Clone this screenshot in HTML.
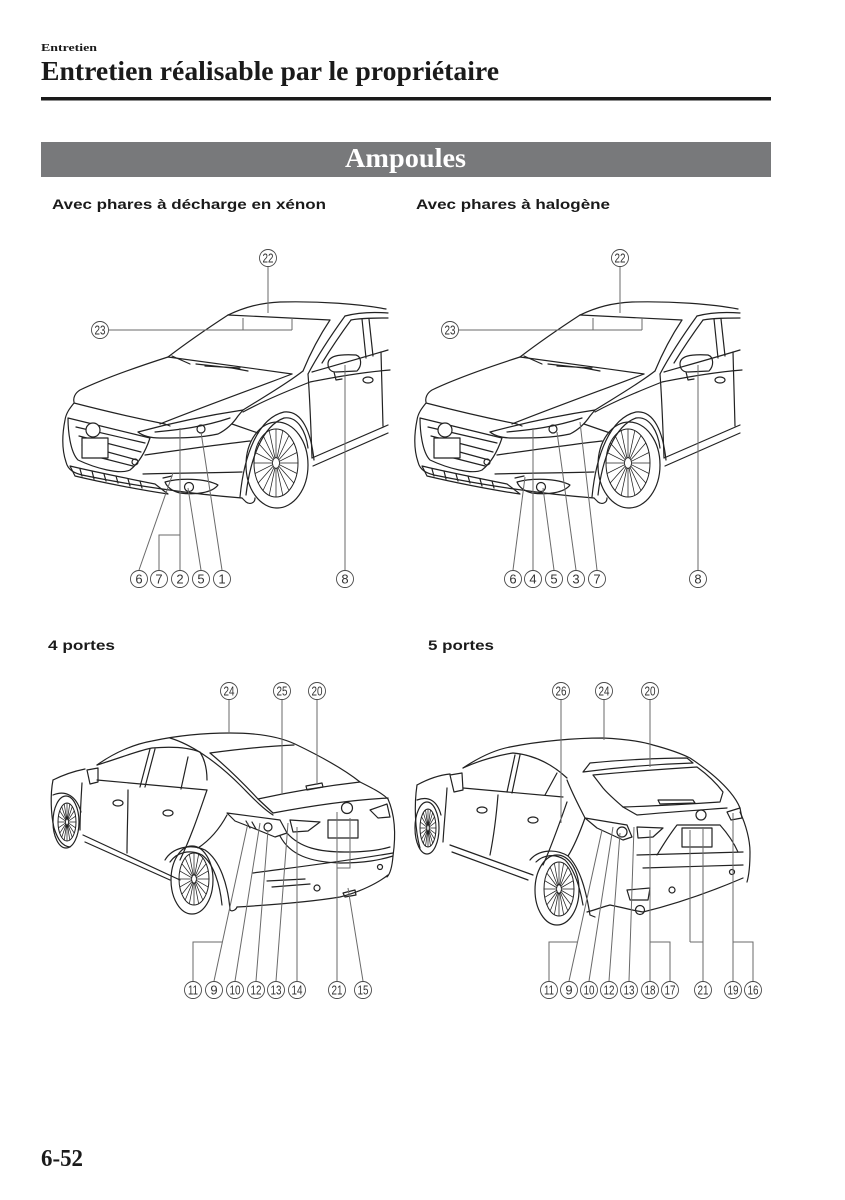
<!DOCTYPE html>
<html><head><meta charset="utf-8"><style>
html,body{margin:0;padding:0;background:#fff;}
svg{display:block;}
.t{font-family:"Liberation Sans",sans-serif;}
.s{font-family:"Liberation Serif",serif;}
.ld{stroke:#6a6a6a;stroke-width:1;fill:none;}
.lb circle{fill:#fff;stroke:#4a4a4a;stroke-width:0.9;}
.lb text{font-family:"Liberation Sans",sans-serif;font-size:13px;fill:#333;text-anchor:middle;}
</style></head><body>
<svg width="845" height="1200" viewBox="0 0 845 1200" xmlns="http://www.w3.org/2000/svg">
<defs>
<g id="rim">
<ellipse cx="0" cy="0" rx="1" ry="1" fill="none" stroke="#222" stroke-width="1" vector-effect="non-scaling-stroke"/>
<ellipse cx="0" cy="0" rx="0.16" ry="0.16" fill="none" stroke="#222" stroke-width="0.8" vector-effect="non-scaling-stroke"/>
<path fill="none" stroke="#222" stroke-width="0.75" vector-effect="non-scaling-stroke" d="M.15,0L1,0M.143,.046L.951,.309M.121,.088L.809,.588M.088,.121L.588,.809M.046,.143L.309,.951M0,.15L0,1M-.046,.143L-.309,.951M-.088,.121L-.588,.809M-.121,.088L-.809,.588M-.143,.046L-.951,.309M-.15,0L-1,0M-.143,-.046L-.951,-.309M-.121,-.088L-.809,-.588M-.088,-.121L-.588,-.809M-.046,-.143L-.309,-.951M0,-.15L0,-1M.046,-.143L.309,-.951M.088,-.121L.588,-.809M.121,-.088L.809,-.588M.143,-.046L.951,-.309"/>
</g>
<g id="fc" fill="none" stroke="#222" stroke-width="1.2" stroke-linejoin="round" stroke-linecap="round">
<path d="M228,315 C245,307 260,303 280,302 C320,301 360,304 386,309"/>
<path d="M228,315 L330,320"/>
<path d="M228,315 C205,330 185,344 168,357"/>
<path d="M168,357 C205,362 250,368 292,374"/>
<path d="M330,320 C318,338 310,354 303,371"/>
<path d="M345,316 C332,334 318,355 308,374"/>
<path d="M345,316 C360,312 375,312 388,313"/>
<path d="M351,320 C362,318 375,318 388,318"/>
<path d="M351,320 C340,335 330,350 322,363"/>
<path d="M312,372 C340,364 365,357 388,350"/>
<path d="M362,319 L366,358 M369,319 L373,356"/>
<path d="M172,356 L190,364 M196,364 L232,368 L248,371 M205,366 L240,368"/>
<path d="M168,357 C140,366 105,378 80,390 C75,393 73,398 74,402"/>
<path d="M74,403 C105,411 135,418 165,424 L170,426"/>
<path d="M138,432 C175,422 210,415 243,410"/>
<path d="M303,371 C285,385 262,398 243,410"/>
<path d="M160,424 C200,408 250,390 292,374"/>
<path d="M243,410 L238,416 C232,425 226,430 218,434 C200,438 180,438 160,438 C150,438 143,436 138,432"/>
<path d="M155,432 C175,430 200,428 230,418"/>
<circle cx="201" cy="429" r="4"/>
<path d="M243,412 C265,400 290,390 310,382 C340,376 365,372 390,370"/>
<path d="M232,424 L258,433"/>
<path d="M74,403 C70,408 66,413 65,420 C62,435 62,450 66,462 C68,470 74,473 82,475 C130,485 190,494 242,498"/>
<path d="M68,418 C100,426 130,433 150,438 C146,450 140,462 130,470 C120,475 95,468 78,460 C70,452 68,430 68,418 Z"/>
<path d="M76,427 L145,443 M79,436 L141,452 M82,445 L137,460 M86,454 L133,466"/>
<circle cx="93" cy="430" r="7" fill="#fff"/>
<rect x="82" y="438" width="26" height="20" fill="#fff"/>
<circle cx="135" cy="462" r="3"/>
<path d="M145,455 C180,450 215,445 250,441"/>
<path d="M143,474 C175,473 210,473 242,472"/>
<path d="M70,466 C95,472 125,478 155,484 L168,494 C140,490 100,482 75,476 Z"/>
<path d="M80,469 L82,476 M92,471 L94,479 M104,474 L106,481 M116,476 L118,483 M128,479 L130,486 M140,481 L142,488"/>
<path d="M165,482 C180,478 205,478 218,485 C212,493 195,495 180,493 C172,491 167,487 165,482 Z"/>
<circle cx="189" cy="487" r="4.5"/>
<path d="M163,478 L172,476"/>
<path d="M242,498 L246,502 C250,505 255,503 255,498"/>
<path d="M240,497 C244,455 258,418 284,412 C302,410 311,432 314,460"/>
<path d="M246,495 C250,460 262,426 284,418 C298,416 306,432 308,448"/>
<ellipse cx="277" cy="465" rx="31" ry="43"/>
<use href="#rim" transform="translate(276,463) scale(22,34)"/>
<path d="M308,374 C310,400 311,430 312,458"/>
<path d="M312,458 L388,425 M313,466 L388,433"/>
<path d="M381,352 L383,426"/>
<path d="M328,364 C328,356 338,354 356,355 C362,357 362,366 357,371 L336,372 C331,372 328,369 328,364 Z"/>
<path d="M334,372 L336,380 L342,379"/>
<ellipse cx="368" cy="380" rx="5" ry="3"/>
</g>
</defs>

<!-- Header -->
<text x="41" y="51" class="s" font-size="11" font-weight="bold" fill="#1a1a1a" textLength="56" lengthAdjust="spacingAndGlyphs">Entretien</text>
<text x="41" y="80" class="s" font-size="27" font-weight="bold" fill="#1a1a1a" textLength="458" lengthAdjust="spacingAndGlyphs">Entretien réalisable par le propriétaire</text>
<rect x="41" y="97" width="730" height="3.5" fill="#1a1a1a"/>
<rect x="41" y="142" width="730" height="35" fill="#78797b"/>
<text x="345" y="167" class="s" font-size="27" font-weight="bold" fill="#fff" textLength="121" lengthAdjust="spacingAndGlyphs">Ampoules</text>

<text x="52" y="209" class="t" font-size="14" font-weight="bold" fill="#1a1a1a" textLength="274" lengthAdjust="spacingAndGlyphs">Avec phares à décharge en xénon</text>
<text x="416" y="209" class="t" font-size="14" font-weight="bold" fill="#1a1a1a" textLength="194" lengthAdjust="spacingAndGlyphs">Avec phares à halogène</text>

<text x="48" y="650" class="t" font-size="14" font-weight="bold" fill="#1a1a1a" textLength="67" lengthAdjust="spacingAndGlyphs">4 portes</text>
<text x="428" y="650" class="t" font-size="14" font-weight="bold" fill="#1a1a1a" textLength="66" lengthAdjust="spacingAndGlyphs">5 portes</text>

<text x="41" y="1166" class="s" font-size="24" font-weight="bold" fill="#1a1a1a" textLength="42" lengthAdjust="spacingAndGlyphs">6-52</text>

<!-- Front cars -->
<use href="#fc"/>
<use href="#fc" transform="translate(352,0)"/>

<!-- Rear sedan -->
<g fill="none" stroke="#222" stroke-width="1.2" stroke-linejoin="round" stroke-linecap="round">
<path d="M97,765 C115,752 135,744 152,741 C180,735 205,733 230,733 C260,733 280,737 295,744 C320,756 345,770 360,782 C372,788 382,793 388,799"/>
<path d="M210,753 C240,749 270,746 294,745"/>
<path d="M210,753 C228,768 245,785 258,799"/>
<path d="M258,799 C290,792 325,786 360,782"/>
<path d="M170,738 C190,744 215,760 240,785 C252,797 262,808 273,815"/>
<path d="M258,799 L273,813"/>
<path d="M273,813 C310,806 350,800 388,798"/>
<path d="M306,786 L322,783 L323,787 L307,790 Z"/>
<path d="M227,813 L280,820 L287,833 L275,837 L253,828 L235,821 Z"/>
<circle cx="268" cy="827" r="4"/>
<path d="M246,821 L250,828 M252,822 L256,829"/>
<path d="M290,820 L320,822 L308,831 L293,832 Z"/>
<path d="M370,810 L387,804 L390,817 L378,818 Z"/>
<path d="M287,833 C300,848 320,852 345,852 C365,852 380,850 390,847"/>
<path d="M280,836 C290,855 310,862 340,863 C365,863 380,860 393,856"/>
<rect x="328" y="820" width="30" height="18"/>
<circle cx="347" cy="808" r="5.5"/>
<path d="M388,799 C395,815 396,835 393,856 C392,868 390,874 387,877"/>
<path d="M253,873 C290,868 340,862 393,853"/>
<path d="M237,907 C270,905 310,902 340,897 C360,892 378,883 388,875"/>
<path d="M267,881 L305,879 M272,887 L310,884"/>
<circle cx="317" cy="888" r="3"/>
<circle cx="380" cy="867" r="2.5"/>
<path d="M343,893 L355,890 L356,895 L345,897 Z"/>
<path d="M227,815 C220,828 210,840 198,848"/>
<path d="M165,860 C172,848 190,843 205,850 C220,860 228,885 230,910"/>
<path d="M170,862 C177,852 190,849 202,855 C214,864 220,885 222,905"/>
<ellipse cx="192" cy="880" rx="21" ry="34"/>
<use href="#rim" transform="translate(194,879) scale(15,26)"/>
<path d="M230,910 C232,912 236,910 237,907"/>
<path d="M97,765 C120,758 140,750 152,748 C175,746 190,748 200,752 C205,760 207,770 207,780"/>
<path d="M97,780 L207,790"/>
<path d="M150,749 L140,787 M155,749 L145,787"/>
<path d="M188,757 L181,789"/>
<path d="M82,783 C81,800 80,815 80,830"/>
<path d="M128,790 C128,810 127,835 127,853"/>
<path d="M207,790 C200,810 192,835 180,860"/>
<path d="M83,835 L180,880 M85,842 L170,880"/>
<ellipse cx="118" cy="803" rx="5" ry="3"/>
<ellipse cx="168" cy="813" rx="5" ry="3"/>
<path d="M53,780 C65,774 75,771 85,769"/>
<path d="M53,780 C50,795 51,815 54,828"/>
<path d="M87,770 L98,768 L98,782 L90,784 Z"/>
<path d="M53,795 C65,790 76,795 81,812"/>
<ellipse cx="66" cy="822" rx="13" ry="26"/>
<use href="#rim" transform="translate(67,822) scale(9,19)"/>
<path d="M54,828 C58,840 62,846 70,847"/>
</g>

<!-- Rear hatchback -->
<g fill="none" stroke="#222" stroke-width="1.2" stroke-linejoin="round" stroke-linecap="round">
<path d="M463,768 C478,758 494,750 510,747 C540,741 575,738 603,738 C625,739 640,741 653,745 C668,749 680,753 690,758 C705,768 720,780 730,792 C735,798 738,803 740,808"/>
<path d="M590,763 C620,760 660,758 687,758 L693,763 C660,764 620,767 583,772 Z"/>
<path d="M593,775 C625,772 665,769 697,767 C708,775 717,784 723,792 L720,802 C690,804 655,806 623,807 C615,800 608,794 603,788 Z"/>
<path d="M658,800 L693,800 L695,803 L660,804 Z"/>
<path d="M623,807 L637,815 M637,815 C670,812 700,810 727,808"/>
<path d="M585,818 L627,825 L632,837 L623,840 L597,828 Z"/>
<circle cx="622" cy="832" r="5"/>
<path d="M637,827 L663,828 L653,837 L638,838 Z"/>
<path d="M727,812 L740,808 L742,818 L731,820 Z"/>
<rect x="682" y="828" width="30" height="19"/>
<circle cx="701" cy="815" r="5"/>
<path d="M657,855 C663,845 670,834 677,825 L720,825 C728,834 734,843 738,852"/>
<path d="M637,855 C670,854 710,853 743,852"/>
<path d="M643,868 C675,867 710,866 743,865"/>
<path d="M740,812 C746,825 750,840 750,852 C750,865 749,875 747,882"/>
<path d="M587,912 C595,910 602,907 610,905 C625,908 635,911 643,912 C680,903 715,890 743,878"/>
<path d="M627,890 L650,888 L648,900 L630,900 Z"/>
<circle cx="640" cy="910" r="4.5"/>
<circle cx="672" cy="890" r="3"/>
<circle cx="732" cy="872" r="2.5"/>
<path d="M567,780 C573,795 579,806 585,818"/>
<path d="M585,818 C580,832 575,845 568,856"/>
<path d="M530,860 C538,850 555,848 568,856 C580,868 586,890 590,915 L595,917"/>
<path d="M536,862 C543,855 555,853 565,860 C575,870 580,888 583,905"/>
<ellipse cx="557" cy="890" rx="22" ry="35"/>
<use href="#rim" transform="translate(559,889) scale(15,27)"/>
<path d="M463,768 C480,760 500,755 513,753 C535,755 553,765 567,778"/>
<path d="M463,788 L563,797"/>
<path d="M515,755 L507,792 M520,755 L512,793"/>
<path d="M557,773 L545,795"/>
<path d="M447,788 C446,805 444,825 443,842"/>
<path d="M498,795 C496,820 493,840 490,855"/>
<path d="M567,802 C560,822 552,845 543,865"/>
<path d="M450,845 L533,875 M452,852 L528,880"/>
<ellipse cx="482" cy="810" rx="5" ry="3"/>
<ellipse cx="533" cy="820" rx="5" ry="3"/>
<path d="M417,785 C428,779 440,775 450,774"/>
<path d="M417,785 C414,805 415,830 420,848"/>
<path d="M450,775 L462,773 L463,790 L454,792 Z"/>
<path d="M417,800 C428,796 437,800 441,815"/>
<ellipse cx="427" cy="828" rx="12" ry="26"/>
<use href="#rim" transform="translate(428,828) scale(8,19)"/>
</g>

<!-- Leader lines -->
<g class="ld">
<path d="M268,267 L268,313"/>
<path d="M109,330 L292,330 M243,330 L243,318 M292,330 L292,318"/>
<path d="M139,570 L173,473"/>
<path d="M159,570 L159,535 L180,535"/>
<path d="M180,570 L180,428"/>
<path d="M201,570 L188,488"/>
<path d="M222,570 L201,432"/>
<path d="M345,570 L345,365"/>
<path d="M620,267 L620,313"/>
<path d="M459,330 L642,330 M593,330 L593,318 M642,330 L642,318"/>
<path d="M513,570 L525,477"/>
<path d="M533,570 L533,428"/>
<path d="M554,570 L543,488"/>
<path d="M576,570 L557,432"/>
<path d="M597,570 L580,422"/>
<path d="M698,570 L698,365"/>
<path d="M229,700 L229,733"/>
<path d="M282,700 L282,795"/>
<path d="M317,700 L317,785"/>
<path d="M193,981 L193,942 L222,942"/>
<path d="M214,981 L248,823"/>
<path d="M235,981 L260,823"/>
<path d="M256,981 L268,830"/>
<path d="M276,981 L288,823"/>
<path d="M297,981 L297,827"/>
<path d="M337,981 L337,812 M337,868 L350,868 L350,818"/>
<path d="M363,981 L348,888"/>
<path d="M561,700 L561,823"/>
<path d="M604,700 L604,740"/>
<path d="M650,700 L650,767"/>
<path d="M549,981 L549,942 L577,942"/>
<path d="M569,981 L602,830"/>
<path d="M589,981 L613,827"/>
<path d="M609,981 L620,833"/>
<path d="M629,981 L634,827"/>
<path d="M650,981 L650,830 M670,981 L670,942 L650,942"/>
<path d="M703,981 L703,827 M690,942 L703,942 M690,942 L690,830"/>
<path d="M733,981 L733,813 M753,981 L753,942 L733,942"/>
</g>

<!-- Circled labels -->
<g class="lb">
<circle cx="268" cy="258" r="8.5"/><text x="268" y="262.5" font-size="12" textLength="11" lengthAdjust="spacingAndGlyphs">22</text>
<circle cx="100" cy="330" r="8.5"/><text x="100" y="334.5" font-size="12" textLength="11" lengthAdjust="spacingAndGlyphs">23</text>
<circle cx="139" cy="579" r="8.5"/><text x="139" y="583.5">6</text>
<circle cx="159" cy="579" r="8.5"/><text x="159" y="583.5">7</text>
<circle cx="180" cy="579" r="8.5"/><text x="180" y="583.5">2</text>
<circle cx="201" cy="579" r="8.5"/><text x="201" y="583.5">5</text>
<circle cx="222" cy="579" r="8.5"/><text x="222" y="583.5">1</text>
<circle cx="345" cy="579" r="8.5"/><text x="345" y="583.5">8</text>
<circle cx="620" cy="258" r="8.5"/><text x="620" y="262.5" font-size="12" textLength="11" lengthAdjust="spacingAndGlyphs">22</text>
<circle cx="450" cy="330" r="8.5"/><text x="450" y="334.5" font-size="12" textLength="11" lengthAdjust="spacingAndGlyphs">23</text>
<circle cx="513" cy="579" r="8.5"/><text x="513" y="583.5">6</text>
<circle cx="533" cy="579" r="8.5"/><text x="533" y="583.5">4</text>
<circle cx="554" cy="579" r="8.5"/><text x="554" y="583.5">5</text>
<circle cx="576" cy="579" r="8.5"/><text x="576" y="583.5">3</text>
<circle cx="597" cy="579" r="8.5"/><text x="597" y="583.5">7</text>
<circle cx="698" cy="579" r="8.5"/><text x="698" y="583.5">8</text>
<circle cx="229" cy="691" r="8.5"/><text x="229" y="695.5" font-size="12" textLength="11" lengthAdjust="spacingAndGlyphs">24</text>
<circle cx="282" cy="691" r="8.5"/><text x="282" y="695.5" font-size="12" textLength="11" lengthAdjust="spacingAndGlyphs">25</text>
<circle cx="317" cy="691" r="8.5"/><text x="317" y="695.5" font-size="12" textLength="11" lengthAdjust="spacingAndGlyphs">20</text>
<circle cx="193" cy="990" r="8.5"/><text x="193" y="994.5" font-size="12" textLength="10" lengthAdjust="spacingAndGlyphs">11</text>
<circle cx="214" cy="990" r="8.5"/><text x="214" y="994.5">9</text>
<circle cx="235" cy="990" r="8.5"/><text x="235" y="994.5" font-size="12" textLength="11" lengthAdjust="spacingAndGlyphs">10</text>
<circle cx="256" cy="990" r="8.5"/><text x="256" y="994.5" font-size="12" textLength="11" lengthAdjust="spacingAndGlyphs">12</text>
<circle cx="276" cy="990" r="8.5"/><text x="276" y="994.5" font-size="12" textLength="11" lengthAdjust="spacingAndGlyphs">13</text>
<circle cx="297" cy="990" r="8.5"/><text x="297" y="994.5" font-size="12" textLength="11" lengthAdjust="spacingAndGlyphs">14</text>
<circle cx="337" cy="990" r="8.5"/><text x="337" y="994.5" font-size="12" textLength="11" lengthAdjust="spacingAndGlyphs">21</text>
<circle cx="363" cy="990" r="8.5"/><text x="363" y="994.5" font-size="12" textLength="11" lengthAdjust="spacingAndGlyphs">15</text>
<circle cx="561" cy="691" r="8.5"/><text x="561" y="695.5" font-size="12" textLength="11" lengthAdjust="spacingAndGlyphs">26</text>
<circle cx="604" cy="691" r="8.5"/><text x="604" y="695.5" font-size="12" textLength="11" lengthAdjust="spacingAndGlyphs">24</text>
<circle cx="650" cy="691" r="8.5"/><text x="650" y="695.5" font-size="12" textLength="11" lengthAdjust="spacingAndGlyphs">20</text>
<circle cx="549" cy="990" r="8.5"/><text x="549" y="994.5" font-size="12" textLength="10" lengthAdjust="spacingAndGlyphs">11</text>
<circle cx="569" cy="990" r="8.5"/><text x="569" y="994.5">9</text>
<circle cx="589" cy="990" r="8.5"/><text x="589" y="994.5" font-size="12" textLength="11" lengthAdjust="spacingAndGlyphs">10</text>
<circle cx="609" cy="990" r="8.5"/><text x="609" y="994.5" font-size="12" textLength="11" lengthAdjust="spacingAndGlyphs">12</text>
<circle cx="629" cy="990" r="8.5"/><text x="629" y="994.5" font-size="12" textLength="11" lengthAdjust="spacingAndGlyphs">13</text>
<circle cx="650" cy="990" r="8.5"/><text x="650" y="994.5" font-size="12" textLength="11" lengthAdjust="spacingAndGlyphs">18</text>
<circle cx="670" cy="990" r="8.5"/><text x="670" y="994.5" font-size="12" textLength="11" lengthAdjust="spacingAndGlyphs">17</text>
<circle cx="703" cy="990" r="8.5"/><text x="703" y="994.5" font-size="12" textLength="11" lengthAdjust="spacingAndGlyphs">21</text>
<circle cx="733" cy="990" r="8.5"/><text x="733" y="994.5" font-size="12" textLength="11" lengthAdjust="spacingAndGlyphs">19</text>
<circle cx="753" cy="990" r="8.5"/><text x="753" y="994.5" font-size="12" textLength="11" lengthAdjust="spacingAndGlyphs">16</text>
</g>
</svg>
</body></html>
